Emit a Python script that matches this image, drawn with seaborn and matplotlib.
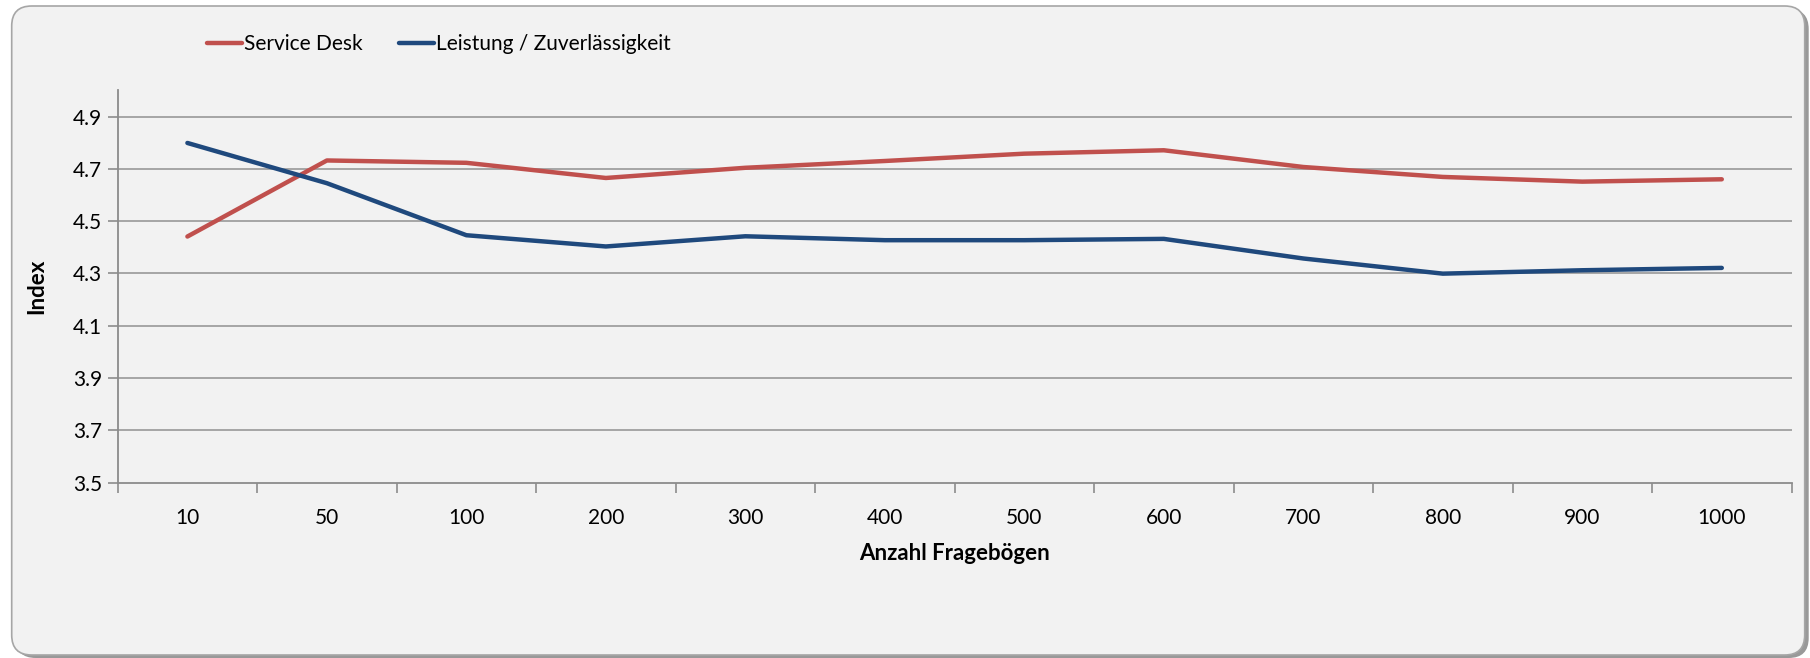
import matplotlib
matplotlib.use("Agg")
import matplotlib.pyplot as plt
from matplotlib.patches import FancyBboxPatch
from matplotlib.ticker import FixedLocator
from matplotlib.lines import Line2D
import seaborn as sns
import pandas as pd

categories = ["10", "50", "100", "200", "300", "400", "500", "600", "700", "800", "900", "1000"]
service_desk = [4.441, 4.732, 4.723, 4.665, 4.704, 4.730, 4.758, 4.771, 4.707, 4.669, 4.651, 4.660]
leistung = [4.799, 4.645, 4.446, 4.403, 4.442, 4.427, 4.427, 4.432, 4.357, 4.299, 4.312, 4.321]
series_names = ["Service Desk", "Leistung / Zuverlässigkeit"]
y_ticks = [3.5, 3.7, 3.9, 4.1, 4.3, 4.5, 4.7, 4.9]

df = pd.DataFrame({
    "Anzahl": categories * 2,
    "Index": service_desk + leistung,
    "Serie": [series_names[0]] * len(categories) + [series_names[1]] * len(categories),
})

sns.set_theme(style="white")
plt.rcParams["font.family"] = ["Lato", "DejaVu Sans"]
FS = 15

fig = plt.figure(figsize=(18.1, 6.58), dpi=100)
fig.patch.set_facecolor("white")

# rounded chart-area frame (coordinates in inches)
shadow = FancyBboxPatch((0.157, 0.0), 17.93, 6.49, boxstyle="round,pad=0,rounding_size=0.2",
                        transform=fig.dpi_scale_trans, facecolor="#999999", edgecolor="none",
                        zorder=-3)
fig.patches.append(shadow)
frame = FancyBboxPatch((0.117, 0.03), 17.93, 6.49, boxstyle="round,pad=0,rounding_size=0.2",
                       transform=fig.dpi_scale_trans, facecolor="#F2F2F2", edgecolor="#A6A6A6",
                       linewidth=1.2, zorder=-2)
fig.patches.append(frame)

ax = fig.add_axes([0.065, 0.2667, 0.9248, 0.5959])
ax.set_facecolor("none")

palette = {series_names[0]: "#C0504D", series_names[1]: "#1F497D"}
sns.lineplot(data=df, x="Anzahl", y="Index", hue="Serie", palette=palette,
             sort=False, linewidth=3.2, ax=ax, legend=False)

n = len(categories)
ax.set_xlim(-0.5, n - 0.5)
ax.set_ylim(3.5, 5.0)
ax.set_yticks(y_ticks)
ax.set_yticklabels([f"{v:.1f}" for v in y_ticks])
ax.set_xticks(range(n))
ax.set_xticklabels(categories)
ax.xaxis.set_minor_locator(FixedLocator([i - 0.5 for i in range(n + 1)]))
ax.tick_params(axis="x", which="major", length=0, labelsize=FS, pad=18, colors="black")
ax.tick_params(axis="x", which="minor", length=7, width=1.2, color="#8c8c8c", direction="out", bottom=True)
ax.tick_params(axis="y", which="major", length=7, width=1.2, color="#8c8c8c", labelsize=FS,
               direction="out", left=True, pad=4, labelcolor="black")

for v in y_ticks[1:]:
    ax.axhline(v, color="#A0A0A0", linewidth=1.3, zorder=0)

for s in ["top", "right"]:
    ax.spines[s].set_visible(False)
for s in ["left", "bottom"]:
    ax.spines[s].set_color("#8c8c8c")
    ax.spines[s].set_linewidth(1.3)

ax.set_xlabel("Anzahl Fragebögen", fontsize=16, fontweight="bold", labelpad=11, color="black")
ax.set_ylabel("Index", fontsize=16, fontweight="bold", labelpad=19, color="black")

handles = [Line2D([0], [0], color=palette[s], lw=3.2) for s in series_names]
fig.legend(handles, series_names, loc="center left", bbox_to_anchor=(0.104, 0.933),
           ncol=2, frameon=False, fontsize=FS, handlelength=1.7, handletextpad=0.1,
           columnspacing=1.7, labelcolor="black")

fig.savefig("out.png", dpi=100, facecolor=fig.get_facecolor())
